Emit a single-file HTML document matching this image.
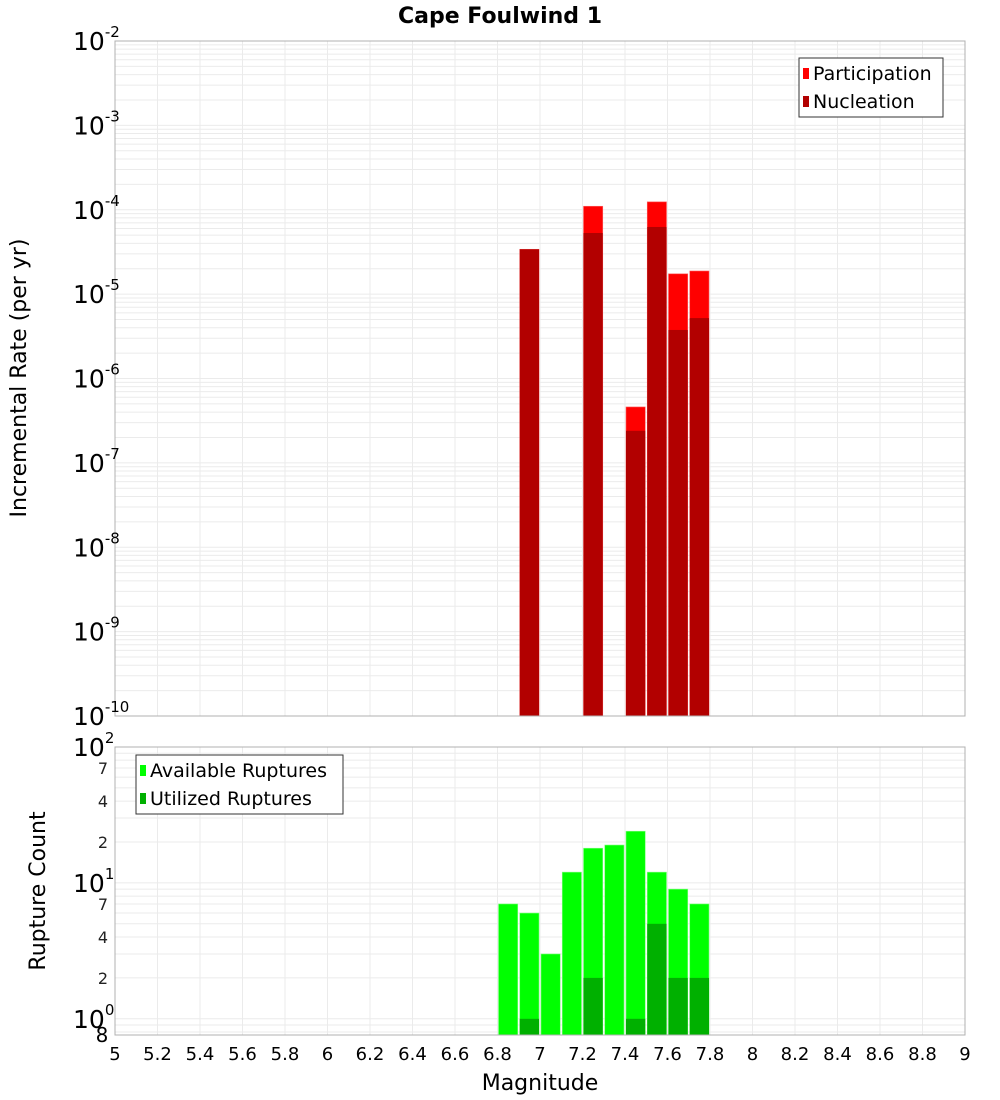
<!DOCTYPE html>
<html><head><meta charset="utf-8"><style>
body{margin:0;background:#fff}
svg{display:block;font-family:"DejaVu Sans","Liberation Sans",sans-serif}
</style></head><body>
<svg id="chart" width="1000" height="1100" viewBox="0 0 1000 1100" xmlns="http://www.w3.org/2000/svg">
<text x="500" y="23" text-anchor="middle" font-size="22" font-weight="bold">Cape Foulwind 1</text>
<g id="topLayer"></g><g id="botLayer"></g>
<text transform="translate(26,378) rotate(-90)" text-anchor="middle" font-size="22">Incremental Rate (per yr)</text>
<text transform="translate(45,891) rotate(-90)" text-anchor="middle" font-size="22">Rupture Count</text>
<text x="540" y="1090" text-anchor="middle" font-size="22">Magnitude</text>
</svg>
<script>
const rateMags=[6.9,7.2,7.4,7.5,7.6,7.7];
const participation=[3.4e-5,1.1e-4,4.6e-7,1.24e-4,1.74e-5,1.88e-5];
const nucleation=[3.4e-5,5.3e-5,2.4e-7,6.25e-5,3.76e-6,5.2e-6];
const countMags=[6.8,6.9,7.0,7.1,7.2,7.3,7.4,7.5,7.6,7.7];
const available=[7,6,3,12,18,19,24,12,9,7];
const utilized=[0,1,0,0,2,0,1,5,2,2];
const xTicks=[5,5.2,5.4,5.6,5.8,6,6.2,6.4,6.6,6.8,7,7.2,7.4,7.6,7.8,8,8.2,8.4,8.6,8.8,9];
const topDecades=[-2,-3,-4,-5,-6,-7,-8,-9,-10];
const botMinor=[7,4,2];
const NS="http://www.w3.org/2000/svg";
const L=115,R=965,T1=41,B1=716,T2=747,B2=1035;
function X(m){return L+(m-5)/4*(R-L);}
function YT(v){return T1+(-2-Math.log10(v))/8*(B1-T1);}
const botTop=2,botBot=Math.log10(0.76);
function YB(v){return T2+(botTop-Math.log10(v))/(botTop-botBot)*(B2-T2);}
function el(tag,attrs,parent,txt){const e=document.createElementNS(NS,tag);for(const k in attrs)e.setAttribute(k,attrs[k]);if(txt!==undefined)e.textContent=txt;parent.appendChild(e);return e;}
const topG=document.getElementById('topLayer'),botG=document.getElementById('botLayer');
for(let d=-10;d<-2;d++){for(let k=1;k<10;k++){const y=YT(k*Math.pow(10,d));const g=el('line',{x1:L,x2:R,y1:y,y2:y,stroke:'#ebebeb','stroke-width':1},topG);

}}
for(const v of [0.8,0.9,1,2,3,4,5,6,7,8,9,10,20,30,40,50,60,70,80,90]){const y=YB(v);const g=el('line',{x1:L,x2:R,y1:y,y2:y,stroke:'#ebebeb','stroke-width':1},botG);

}
for(const t of xTicks){const x=X(t);
const a=el('line',{x1:x,x2:x,y1:T1,y2:B1,stroke:'#ebebeb'},topG);


const b=el('line',{x1:x,x2:x,y1:T2,y2:B2,stroke:'#ebebeb'},botG);


const lbl=el('text',{x:x,y:1060,'text-anchor':'middle','font-size':18},botG,String(t));

}
const bw=(X(5.1)-X(5))-1;
rateMags.forEach((m,i)=>{
const p=el('rect',{x:X(m)+1,y:YT(participation[i]),width:bw-1,height:B1-YT(participation[i]),fill:'#ff0000',stroke:'#ff6060','stroke-width':0.6},topG);


const n=el('rect',{x:X(m)+1,y:YT(nucleation[i]),width:bw-1,height:B1-YT(nucleation[i]),fill:'#b20000'},topG);

});
countMags.forEach((m,i)=>{
const a=el('rect',{x:X(m)+1,y:YB(available[i]),width:bw-1,height:B2-YB(available[i]),fill:'#00ff00',stroke:'#80ff80','stroke-width':0.6},botG);


if(utilized[i]>0){const u=el('rect',{x:X(m)+1,y:YB(utilized[i]),width:bw-1,height:B2-YB(utilized[i]),fill:'#00b000'},botG);

}});
const f1=el('rect',{x:L,y:T1,width:R-L,height:B1-T1,fill:'none',stroke:'#b0b0b0'},topG);


const f2=el('rect',{x:L,y:T2,width:R-L,height:B2-T2,fill:'none',stroke:'#b0b0b0'},botG);


for(const d of topDecades){const y=YT(Math.pow(10,d));
const t=el('text',{x:73,y:y+9,'font-size':25},topG);


el('tspan',{},t,'10');el('tspan',{dy:-13,'font-size':15},t,String(d));}
[[100,'2'],[10,'1'],[1,'0']].forEach(([v,e])=>{const y=YB(v);
const t=el('text',{x:73,y:y+9,'font-size':25},botG);


el('tspan',{},t,'10');el('tspan',{dy:-13,'font-size':15},t,e);});
for(const dec of [10,1]){for(const k of botMinor){const y=YB(k*dec);
const t=el('text',{x:103,y:y+6,'font-size':16,'text-anchor':'middle',fill:'#222'},botG,String(k));

}}
const e8=el('text',{x:102,y:1042,'font-size':20,'text-anchor':'middle'},botG,'8');


function legend(parent,x,y,w,items,name){const g=el('g',{},parent);


el('rect',{x:x,y:y,width:w,height:59,fill:'#fff',stroke:'#333'},g);
items.forEach(([c,l],i)=>{el('rect',{x:x+4,y:y+10+i*28,width:6,height:11,fill:c},g);
el('text',{x:x+14,y:y+22+i*28,'font-size':19},g,l);});}
legend(topG,799,58,144,[['#ff0000','Participation'],['#b20000','Nucleation']],'top-legend');
legend(botG,136,755,207,[['#00ff00','Available Ruptures'],['#00b000','Utilized Ruptures']],'bottom-legend');
</script>
</body></html>
